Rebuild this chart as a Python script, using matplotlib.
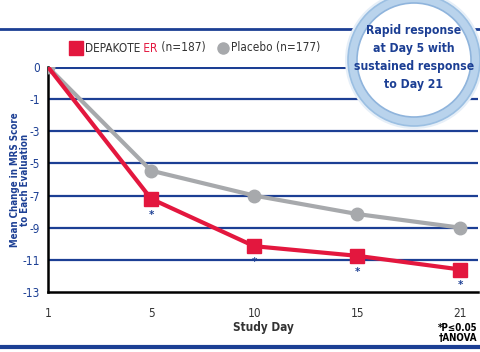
import matplotlib
matplotlib.use('Agg')
from matplotlib import pyplot as plt
from matplotlib.patches import Ellipse
from matplotlib.lines import Line2D
import numpy as np

plt.rcParams['font.family'] = ['DejaVu Sans']
plt.rcParams['font.stretch'] = 'condensed'

days = ['1', '5', '10', '15', '21']
depakote = [0, -7.2, -10.15, -10.75, -11.6]
placebo = [0, -5.45, -7.0, -8.15, -9.0]
sig_days = [1, 2, 3, 4]
y_ticks = [0, -1, -3, -5, -7, -9, -11, -13]

RED = '#e3173e'
GRAY = '#a7a9ac'
BLUE = '#1c3f94'
DARK = '#333333'

# the y axis has equally spaced labels 0, -1, -3 ... -13
def fwd(v):
    v = np.asarray(v, dtype=float)
    return np.where(v >= -1, v, -1 + (v + 1) / 2.0)

def inv(p):
    p = np.asarray(p, dtype=float)
    return np.where(p >= -1, p, -1 + (p + 1) * 2.0)

fig = plt.figure(figsize=(4.8, 3.52), dpi=100)
ax = fig.add_axes([48 / 480, 1 - 292 / 352, (478 - 48) / 480, (292 - 67) / 352])
ax.set_yscale('function', functions=(fwd, inv))

x = np.arange(len(days))
for t in y_ticks[1:-1]:
    ax.axhline(t, color=BLUE, lw=1.6, zorder=1)
ax.axhline(0, color=BLUE, lw=2.2, zorder=1)

ax.plot(x, placebo, color=GRAY, lw=3, marker='o', ms=9, zorder=3)
ax.plot(x, depakote, color=RED, lw=3, marker='s', ms=10, markevery=[1, 2, 3, 4], zorder=4)
for i in sig_days:
    ax.annotate('*', (x[i], depakote[i]), xytext=(0, -15), textcoords='offset points',
                ha='center', va='bottom', color=BLUE, fontsize=8, fontweight='bold', zorder=6)

ax.set_xlim(0, 4.17)
ax.set_ylim(-13, 0)
ax.set_xticks(x)
ax.set_xticklabels(days)
ax.set_yticks(y_ticks)
ax.set_yticklabels([str(t) for t in y_ticks])
ax.tick_params(axis='y', length=0, pad=6, labelcolor=BLUE, labelsize=8.5)
ax.tick_params(axis='x', length=0, pad=11, labelcolor=DARK, labelsize=8.5)
for s in ['top', 'right']:
    ax.spines[s].set_visible(False)
for s in ['left', 'bottom']:
    ax.spines[s].set_color('black')
    ax.spines[s].set_linewidth(1.8)
ax.spines['bottom'].set_zorder(5)

ax.set_xlabel('Study Day', fontsize=8.5, fontweight='bold', color=DARK)
ax.xaxis.set_label_coords(0.5, -0.13)
ax.set_ylabel('Mean Change in MRS Score\nto Each Evaluation', fontsize=7, fontweight='bold',
              color=BLUE, linespacing=1.1)
ax.yaxis.set_label_coords(-0.065, 0.5)
ax.yaxis.label.set_va('center')

# legend, built by hand so that "ER" can be red
fig.add_artist(Line2D([76 / 480], [1 - 48 / 352], color=RED, marker='s', ms=10, ls='',
                      transform=fig.transFigure))
fig.add_artist(Line2D([223 / 480], [1 - 48 / 352], color=GRAY, marker='o', ms=8, ls='',
                      transform=fig.transFigure))
t1 = fig.text(85 / 480, 1 - 48 / 352, 'DEPAKOTE', fontsize=8.5, color=DARK, va='center')
t2 = ax.annotate(' ER', xy=(1, 0), xycoords=t1, va='bottom', fontsize=8.5, color=RED)
ax.annotate(' (n=187)', xy=(1, 0), xycoords=t2, va='bottom', fontsize=8.5, color=DARK)
fig.text(231 / 480, 1 - 48 / 352, 'Placebo (n=177)', fontsize=8.5, color=DARK, va='center')

# top and bottom rules
fig.add_artist(Line2D([0, 1], [1 - 29 / 352] * 2, color=BLUE, lw=2.0, transform=fig.transFigure))
fig.add_artist(Line2D([0, 1], [1 - 347 / 352] * 2, color=BLUE, lw=3.0, transform=fig.transFigure))

# callout bubble
cx, cy, r = 414 / 480, 1 - 60 / 352, 66
for rad, fc, ec in [(r + 3, '#e6eff8', 'none'), (r, '#b9d3ec', '#9bbfe2'), (r - 9, 'white', '#8fb4dc')]:
    fig.add_artist(Ellipse((cx, cy), 2 * rad / 480, 2 * rad / 352, transform=fig.transFigure,
                           facecolor=fc, edgecolor=ec, lw=1.2, zorder=10))
fig.text(cx, cy + 2 / 352, 'Rapid response\nat Day 5 with\nsustained response\nto Day 21', ha='center',
         va='center', fontsize=8.7, fontweight='bold', color=BLUE, linespacing=1.5, zorder=11)

fig.text(477 / 480, 1 - 333 / 352, '*P\u22640.05\n\u2020ANOVA', ha='right', va='center',
         fontsize=7, fontweight='bold', color='black', linespacing=1.0)

fig.savefig('out.png', dpi=100)
